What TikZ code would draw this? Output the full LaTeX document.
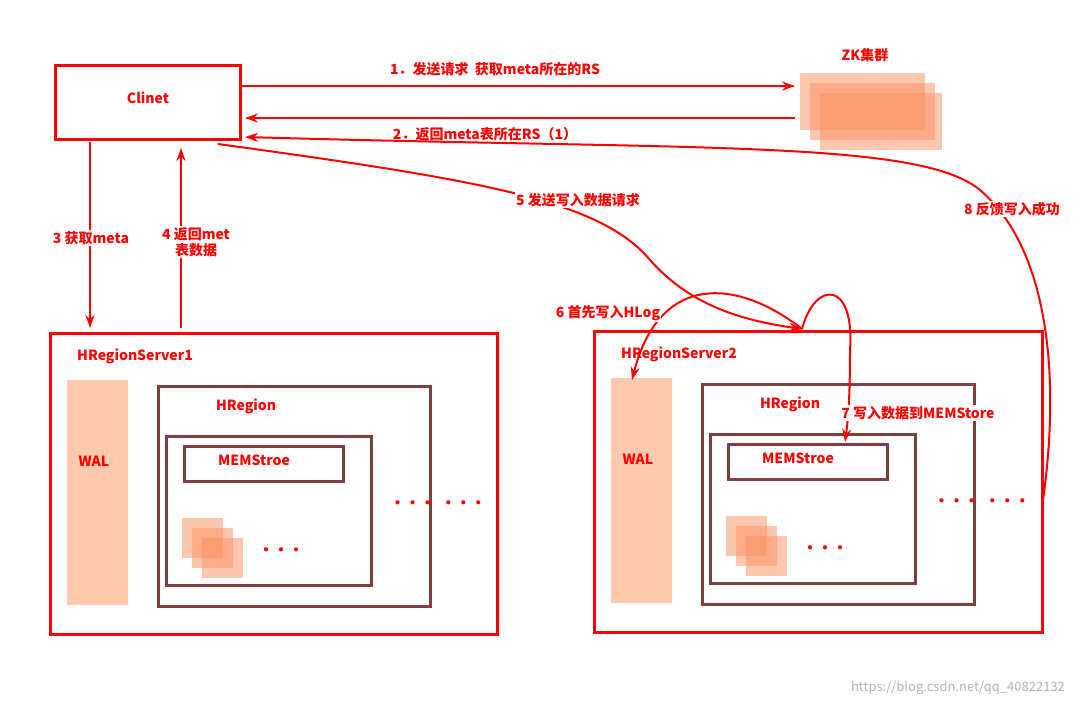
\documentclass[tikz,border=0pt]{standalone}
\usepackage{fontspec}
\setmainfont{Noto Sans CJK SC}
\usetikzlibrary{arrows.meta}
\definecolor{rd}{HTML}{FF0000}
\definecolor{br}{HTML}{7F3F3F}
\definecolor{wal}{HTML}{FDCAAE}
\definecolor{org}{HTML}{FA9060}
\tikzset{
  lbl/.style={text=rd,font=\bfseries\fontsize{14}{16}\selectfont,fill=white,inner sep=1pt,align=center},
  srv/.style={draw=rd,line width=3pt},
  reg/.style={draw=br,line width=3pt},
  walbox/.style={fill=wal,draw=none},
  sq/.style={fill=org,fill opacity=0.5,draw=none},
  conn/.style={draw=rd,line width=2pt,-{Stealth[length=13pt,width=9pt]}},
  dots/.style={text=rd,font=\bfseries\fontsize{15}{15}\selectfont}
}
\begin{document}
\begin{tikzpicture}[x=1pt,y=-1pt]
\useasboundingbox (0,0) rectangle (1088,706);
% client
\node[srv,minimum width=185,minimum height=74,inner sep=0] (cl) at (147.5,103) {};
\node[lbl] (cllbl) at (148,98) {Clinet};
% ZK
\fill[sq] (800,73) rectangle (925,130);
\fill[sq] (810,83) rectangle (935,140);
\fill[sq] (820,93) rectangle (942,150);
\node[lbl] (zk) at (865,55) {ZK集群};
\coordinate (zkin) at (795,86);
\coordinate (zkout) at (795,118);
\coordinate (clA) at (240,86);
\coordinate (clB) at (245,118);
\coordinate (clC) at (245,137);
\draw[conn] (clA) -- (zkin);
\draw[conn] (zkout) -- (clB);
\node[lbl] at (495,69) {1．发送请求 \ 获取meta所在的RS};
\node[lbl] at (485,134) {2．返回meta表所在RS（1）};
% servers
\draw[srv] (50,333) rectangle (497,634);
\draw[srv] (594,331) rectangle (1042,632);
\node[lbl,anchor=west] at (76,356) {HRegionServer1};
\node[lbl,anchor=west] at (620,354) {HRegionServer2};
\foreach \dx/\dy/\n in {0/0/a,544/-2/b}{
 \begin{scope}[shift={(\dx,\dy)}]
  \fill[walbox] (67,380) rectangle (128,605);
  \node[lbl,fill=none] at (94,461) {WAL};
  \draw[reg] (158,386) rectangle (430,606);
  \node[lbl] at (246,406) {HRegion};
  \draw[reg] (166,436) rectangle (371,585);
  \draw[reg] (184,446) rectangle (343,481);
  \node[lbl,fill=none] at (254,460) {MEMStroe};
  \fill[sq] (182,518) rectangle (223,558);
  \fill[sq] (192,528) rectangle (233,568);
  \fill[sq] (202,538) rectangle (243,578);
  \node[dots] at (281,552) {•••};
  \node[dots] at (438,505) {•••\ \,•••};
 \end{scope}}
\coordinate (rs1top) at (90,328);
\coordinate (rs1b) at (181,328);
\coordinate (clD) at (90,142);
\coordinate (clE) at (181,148);
\draw[conn] (clD) -- (rs1top);
\draw[conn] (rs1b) -- (clE);
\node[lbl] at (91,238) {3 获取meta};
\node[lbl] at (196,242) {4 返回met\\表数据};
% 5
\coordinate (c5) at (218,144);
\coordinate (hit) at (802,329);
\draw[conn] (c5) .. controls (480,180) and (600,200) .. (650,260) .. controls (690,305) and (740,320) .. (hit);
\node[lbl] at (578,200) {5 发送写入数据请求};
% 6
\coordinate (wal2) at (632,380);
\draw[conn] (hit) .. controls (740,280) and (660,270) .. (wal2);
\node[lbl] at (608,313) {6 首先写入HLog};
% 7
\coordinate (mem2) at (845,442);
\draw[conn] (hit) .. controls (815,280) and (855,280) .. (850,350) .. controls (850,400) and (848,420) .. (mem2);
\node[lbl] at (918,413) {7 写入数据到MEMStore};
% 8
\coordinate (r2) at (1043,500);
\draw[conn] (r2) .. controls (1060,380) and (1050,250) .. (980,190) .. controls (920,140) and (700,150) .. (clC);
\node[lbl] at (1012,209) {8 反馈写入成功};
\node[text=gray!60,font=\fontsize{13}{15}\selectfont] (wm) at (958,688) {https://blog.csdn.net/qq\_40822132};
\end{tikzpicture}
\end{document}
